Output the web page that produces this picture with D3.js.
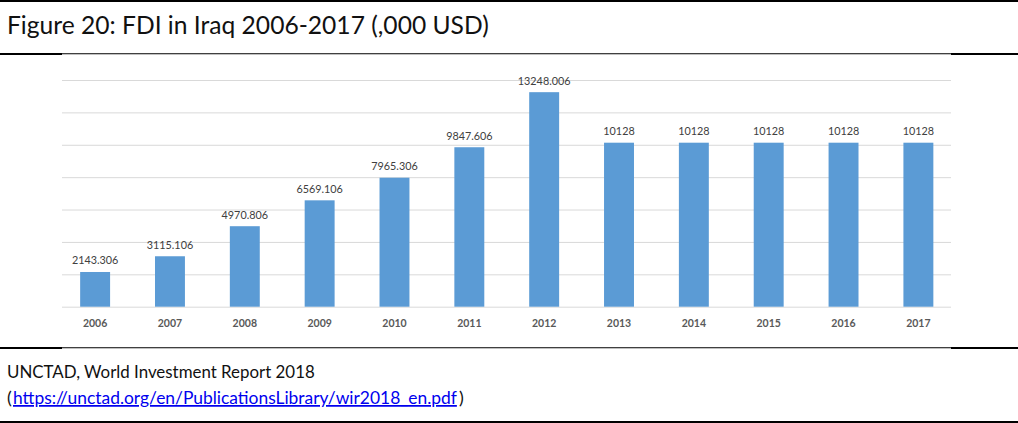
<!DOCTYPE html>
<html>
<head>
<meta charset="utf-8">
<script src="https://cdn.jsdelivr.net/npm/d3@7"></script>
<style>
  html, body { margin: 0; padding: 0; background: #fff; }
  svg { display: block; }
</style>
</head>
<body>
<svg id="chart" width="1018" height="423"></svg>
<script>
// FDI inflows to Iraq, thousands of USD
const years = ["2006", "2007", "2008", "2009", "2010", "2011", "2012", "2013", "2014", "2015", "2016", "2017"];
const fdiValues = [2143.306, 3115.106, 4970.806, 6569.106, 7965.306, 9847.606, 13248.006, 10128, 10128, 10128, 10128, 10128];
const valueLabels = ["2143.306", "3115.106", "4970.806", "6569.106", "7965.306", "9847.606", "13248.006", "10128", "10128", "10128", "10128", "10128"];
const gridTicks = [0, 2000, 4000, 6000, 8000, 10000, 12000, 14000];

const titleText = "Figure 20: FDI in Iraq 2006-2017 (,000 USD)";
const sourceText = "UNCTAD, World Investment Report 2018";
const sourceUrl = "https://unctad.org/en/PublicationsLibrary/wir2018_en.pdf";

const W = 1018, H = 423;
const svg = d3.select("#chart");
const uiFont = "Lato, 'Open Sans', sans-serif";

// Frame rules: heavy top/bottom, caption separators
function rule(x1, x2, y, w) {
  svg.append("line").attr("x1", x1).attr("x2", x2).attr("y1", y).attr("y2", y)
    .attr("stroke", "#000").attr("stroke-width", w);
}
rule(0, W, 1, 2);
rule(0, 62, 54, 2); rule(62, 951, 53.8, 1.1); rule(951, W, 54, 2);
rule(0, 62, 348, 2); rule(62, 951, 347.8, 1.1); rule(951, W, 348, 2);
rule(0, W, 422, 2);

// Text sized so that its natural width fills a given span
function fitText(str, xPos, yPos, span, size, fill) {
  const t = svg.append("text").attr("x", xPos).attr("y", yPos)
    .attr("font-family", uiFont).attr("font-size", size).attr("fill", fill).text(str);
  const w = t.node().getComputedTextLength();
  t.attr("font-size", size * span / w);
  return t;
}

// Caption
fitText(titleText, 7, 34, 482, 21, "#111");

// Source note
fitText(sourceText, 7, 378, 308, 18, "#111");
const open = svg.append("text").attr("x", 7).attr("y", 404)
  .attr("font-family", uiFont).attr("font-size", 18).attr("fill", "#111").text("(");
const link = fitText(sourceUrl, 13, 404, 444, 18, "#0000ee").attr("text-decoration", "underline");
svg.append("text").attr("x", 13 + 444 + 2).attr("y", 404)
  .attr("font-family", uiFont).attr("font-size", 18).attr("fill", "#111").text(")");

// Scales
const plotLeft = 62, plotRight = 951;
const x = d3.scaleBand().domain(years).range([57.7, 955.8]).paddingInner(0.6).paddingOuter(0.3);
const y = d3.scaleLinear().domain([0, 14000]).range([306.7, 80]);

// Gridlines
const grid = svg.append("g").attr("transform", `translate(${plotLeft},0)`)
  .call(d3.axisLeft(y).tickValues(gridTicks).tickSize(-(plotRight - plotLeft)).tickFormat(""));
grid.select(".domain").remove();
grid.selectAll(".tick line").attr("stroke", "#d9d9d9").attr("stroke-width", 1);

// Bars
svg.append("g").selectAll("rect").data(years).join("rect")
  .attr("x", d => x(d))
  .attr("width", x.bandwidth())
  .attr("y", (d, i) => y(fdiValues[i]))
  .attr("height", (d, i) => y(0) - y(fdiValues[i]))
  .attr("fill", "#5b9bd5");

// Value labels
svg.append("g").selectAll("text").data(years).join("text")
  .attr("x", d => x(d) + x.bandwidth() / 2)
  .attr("y", (d, i) => y(fdiValues[i]) - 7.5)
  .attr("text-anchor", "middle")
  .attr("font-family", uiFont).attr("font-size", 10.8).attr("fill", "#404040")
  .text((d, i) => valueLabels[i]);

// Category axis
const xAxis = svg.append("g").attr("transform", `translate(0,${y(0)})`)
  .call(d3.axisBottom(x).tickSize(0).tickPadding(13));
xAxis.select(".domain").remove();
xAxis.selectAll("text")
  .attr("font-family", uiFont).attr("font-size", 10.5).attr("font-weight", "bold").attr("fill", "#595959");
</script>
</body>
</html>
